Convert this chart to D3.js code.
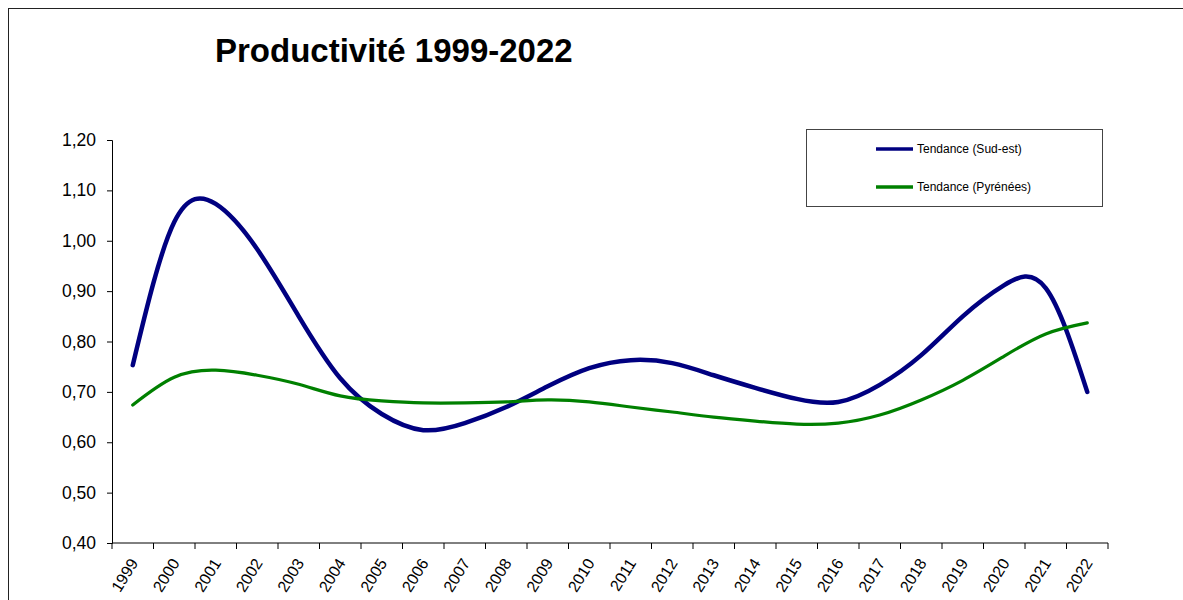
<!DOCTYPE html>
<html>
<head>
<meta charset="utf-8">
<script src="https://cdn.jsdelivr.net/npm/d3@7"></script>
<style>
	body { margin: 0; background: #fff; }
	svg { display: block; font-family: "Liberation Sans", Arial, sans-serif; }
</style>
</head>
<body>
<svg id="chart" width="1183" height="600"></svg>
<script>
const years = ['1999','2000','2001','2002','2003','2004','2005','2006','2007','2008','2009','2010',
	'2011','2012','2013','2014','2015','2016','2017','2018','2019','2020','2021','2022']
const sudEst = [0.753, 1.037, 1.073, 0.983, 0.850, 0.727, 0.656, 0.624, 0.638, 0.670, 0.711, 0.747,
	0.763, 0.757, 0.733, 0.708, 0.686, 0.680, 0.714, 0.773, 0.850, 0.912, 0.906, 0.700]
const pyrenees = [0.674, 0.729, 0.743, 0.733, 0.715, 0.692, 0.682, 0.678, 0.678, 0.680, 0.684, 0.680,
	0.670, 0.660, 0.650, 0.642, 0.636, 0.638, 0.654, 0.684, 0.723, 0.771, 0.815, 0.837]
const yTicks = [0.4, 0.5, 0.6, 0.7, 0.8, 0.9, 1.0, 1.1, 1.2]
const seriesNames = ['Tendance (Sud-est)', 'Tendance (Pyrénées)']
const seriesColors = ['#000080', '#008000']

const svg = d3.select('#chart')

// outer frame (cut by the right and bottom edges)
svg.append('rect')
	.attr('x', 8.5).attr('y', 8.5)
	.attr('width', 1300).attr('height', 800)
	.attr('fill', 'none').attr('stroke', '#222')

svg.append('text')
	.attr('x', 215).attr('y', 62)
	.attr('font-size', 33).attr('font-weight', 'bold')
	.text('Productivité 1999-2022')

const plotL = 112, plotR = 1108, plotT = 140, plotB = 543

const x = d3.scaleBand().domain(years).range([plotL, plotR])
const y = d3.scaleLinear().domain([0.4, 1.2]).range([plotB, plotT])

const yAxis = svg.append('g')
	.attr('transform', `translate(${plotL},0)`)
	.call(d3.axisLeft(y).tickValues(yTicks).tickSize(5).tickPadding(11)
		.tickFormat(d => d3.format('.2f')(d).replace('.', ',')))
yAxis.selectAll('text').attr('font-size', 17.5).attr('fill', '#000')
	.attr('font-family', '"Liberation Sans", Arial, sans-serif')
yAxis.selectAll('line, path').attr('stroke', '#000')

const xAxis = svg.append('g')
	.attr('transform', `translate(0,${plotB})`)
	.call(d3.axisBottom(x).tickSize(0).tickPadding(0))
xAxis.select('path').remove()
xAxis.append('line')
	.attr('x1', plotL).attr('x2', plotR).attr('stroke', '#000')
// ticks sit between the categories
xAxis.selectAll('.sep')
	.data(years.concat(['end']))
	.enter().append('line')
	.attr('x1', (d, i) => plotL + i * x.step())
	.attr('x2', (d, i) => plotL + i * x.step())
	.attr('y1', 0).attr('y2', 6)
	.attr('stroke', '#000')
xAxis.selectAll('.tick text')
	.attr('font-size', 16).attr('fill', '#000')
	.attr('font-family', '"Liberation Sans", Arial, sans-serif')
	.attr('text-anchor', 'end')
	.attr('dy', 0)
	.attr('transform', 'translate(6,20) rotate(-58)')

const line = d3.line()
	.x((d, i) => x(years[i]) + x.bandwidth() / 2)
	.y(d => y(d))
	.curve(d3.curveNatural)

;[sudEst, pyrenees].forEach((s, k) => {
	svg.append('path')
		.attr('d', line(s))
		.attr('fill', 'none')
		.attr('stroke', seriesColors[k])
		.attr('stroke-width', k === 0 ? 4.5 : 3.2)
		.attr('stroke-linecap', 'round')
})

// legend
const legend = svg.append('g')
legend.append('rect')
	.attr('x', 806.5).attr('y', 129.5).attr('width', 296).attr('height', 77)
	.attr('fill', '#fff').attr('stroke', '#444')
seriesNames.forEach((n, k) => {
	const ly = 149 + k * 38
	legend.append('line')
		.attr('x1', 876).attr('x2', 913).attr('y1', ly).attr('y2', ly)
		.attr('stroke', seriesColors[k]).attr('stroke-width', 3.5)
	legend.append('text')
		.attr('x', 917).attr('y', ly + 4)
		.attr('font-size', 12)
		.text(n)
})
</script>
</body>
</html>
